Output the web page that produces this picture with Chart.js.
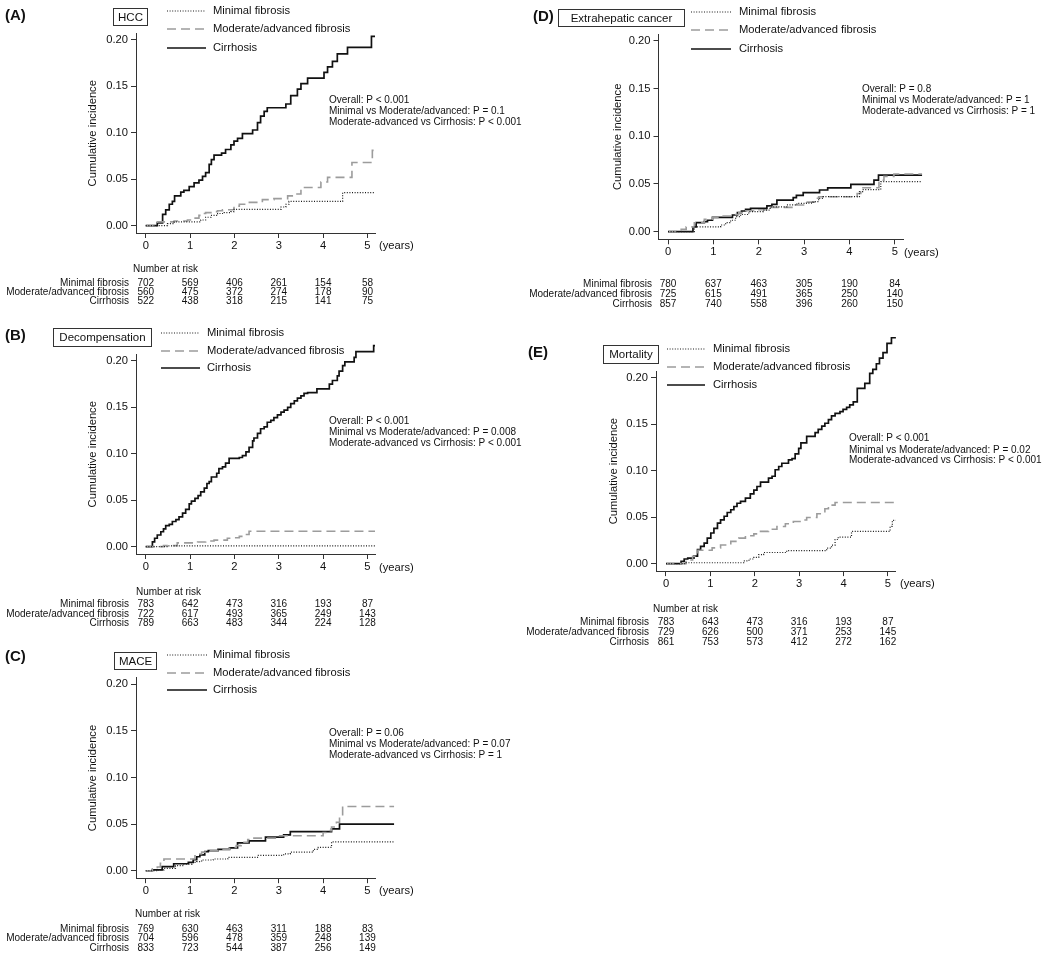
<!DOCTYPE html>
<html><head><meta charset="utf-8">
<script src="https://cdn.jsdelivr.net/npm/chart.js@4.4.0/dist/chart.umd.min.js"></script>
<style>
html,body{margin:0;padding:0;background:#fff;}
body{width:1050px;height:957px;position:relative;overflow:hidden;}
canvas{position:absolute;}
</style></head><body>
<canvas id="cA"></canvas><canvas id="cB"></canvas><canvas id="cC"></canvas><canvas id="cD"></canvas><canvas id="cE"></canvas>
<script>
const FONT = '"Liberation Sans", Arial, Helvetica, sans-serif';
const yearTicks = [0, 1, 2, 3, 4, 5];
const cifTicks = [0, 0.05, 0.10, 0.15, 0.20];
const groupNames = ['Minimal fibrosis', 'Moderate/advanced fibrosis', 'Cirrhosis'];
const yTitle = 'Cumulative incidence';
const narHeader = 'Number at risk';

// ---- (A) HCC ----
const hccMinT = [0, 0.49, 0.64, 1.24, 1.35, 1.47, 1.62, 1.77, 1.92, 1.99, 3.05, 3.16, 3.23, 4.44, 5.17];
const hccMinY = [0, 0.002, 0.004, 0.006, 0.009, 0.011, 0.013, 0.014, 0.015, 0.0175, 0.020, 0.023, 0.026, 0.0355, 0.0355];
const hccModT = [0, 0.26, 0.64, 0.94, 1.05, 1.20, 1.28, 1.35, 1.47, 1.62, 1.73, 1.99, 2.11, 2.29, 2.63, 2.89, 3.20, 3.35, 3.50, 3.95, 4.10, 4.65, 5.11, 5.15];
const hccModY = [0, 0.004, 0.005, 0.006, 0.008, 0.011, 0.013, 0.014, 0.015, 0.016, 0.017, 0.021, 0.023, 0.025, 0.028, 0.029, 0.032, 0.034, 0.041, 0.047, 0.052, 0.068, 0.081, 0.081];
const hccCirT = [0, 0.26, 0.38, 0.45, 0.53, 0.60, 0.65, 0.79, 0.86, 0.98, 1.09, 1.20, 1.28, 1.35, 1.43, 1.48, 1.54, 1.71, 1.80, 1.92, 1.99, 2.07, 2.18, 2.41, 2.52, 2.59, 2.67, 2.74, 3.16, 3.27, 3.42, 3.50, 3.65, 4.02, 4.10, 4.21, 4.32, 4.55, 5.09, 5.17];
const hccCirY = [0, 0.003, 0.012, 0.017, 0.023, 0.026, 0.032, 0.036, 0.038, 0.042, 0.046, 0.049, 0.053, 0.057, 0.066, 0.071, 0.076, 0.078, 0.082, 0.087, 0.091, 0.094, 0.099, 0.103, 0.111, 0.118, 0.123, 0.127, 0.131, 0.140, 0.147, 0.153, 0.159, 0.165, 0.171, 0.177, 0.185, 0.192, 0.204, 0.204];
const hccRiskMin = [702, 569, 406, 261, 154, 58];
const hccRiskMod = [560, 475, 372, 274, 178, 90];
const hccRiskCir = [522, 438, 318, 215, 141, 75];
const hccP = ['Overall: P < 0.001', 'Minimal vs Moderate/advanced: P = 0.1', 'Moderate-advanced vs Cirrhosis: P < 0.001'];

// ---- (B) Decompensation ----
const decMinT = [0, 0.5, 5.17];
const decMinY = [0, 0.0008, 0.0008];
const decModT = [0, 0.40, 0.71, 1.17, 1.35, 1.54, 1.84, 1.99, 2.11, 2.22, 2.33, 5.17];
const decModY = [0, 0.001, 0.004, 0.005, 0.006, 0.007, 0.009, 0.0095, 0.011, 0.013, 0.0165, 0.0165];
const decCirT = [0, 0.15, 0.20, 0.26, 0.34, 0.40, 0.45, 0.53, 0.60, 0.68, 0.75, 0.83, 0.90, 0.98, 1.03, 1.11, 1.18, 1.24, 1.32, 1.38, 1.43, 1.48, 1.60, 1.65, 1.73, 1.80, 1.88, 2.11, 2.18, 2.26, 2.33, 2.41, 2.44, 2.52, 2.59, 2.67, 2.74, 2.82, 2.89, 2.97, 3.05, 3.12, 3.20, 3.27, 3.35, 3.42, 3.50, 3.57, 3.65, 3.86, 4.14, 4.21, 4.32, 4.36, 4.44, 4.49, 4.70, 4.74, 5.14, 5.17];
const decCirY = [0, 0.005, 0.009, 0.0125, 0.016, 0.019, 0.0225, 0.024, 0.027, 0.029, 0.032, 0.036, 0.040, 0.046, 0.049, 0.052, 0.055, 0.059, 0.063, 0.068, 0.070, 0.075, 0.079, 0.084, 0.086, 0.090, 0.095, 0.096, 0.098, 0.102, 0.107, 0.114, 0.117, 0.122, 0.127, 0.129, 0.134, 0.136, 0.139, 0.142, 0.145, 0.147, 0.150, 0.154, 0.157, 0.160, 0.1625, 0.165, 0.166, 0.170, 0.175, 0.179, 0.184, 0.189, 0.195, 0.199, 0.204, 0.210, 0.2165, 0.2165];
const decRiskMin = [783, 642, 473, 316, 193, 87];
const decRiskMod = [722, 617, 493, 365, 249, 143];
const decRiskCir = [789, 663, 483, 344, 224, 128];
const decP = ['Overall: P < 0.001', 'Minimal vs Moderate/advanced: P = 0.008', 'Moderate-advanced vs Cirrhosis: P < 0.001'];

// ---- (C) MACE ----
const maceMinT = [0, 0.26, 0.41, 0.67, 0.85, 1.04, 1.15, 1.26, 1.52, 1.85, 2.52, 3.11, 3.26, 3.78, 3.89, 4.19, 5.6];
const maceMinY = [0, 0.001, 0.0025, 0.0054, 0.0072, 0.009, 0.0097, 0.0115, 0.0126, 0.0144, 0.0165, 0.018, 0.020, 0.023, 0.025, 0.031, 0.031];
const maceModT = [0, 0.15, 0.26, 0.33, 0.41, 1.11, 1.19, 1.26, 1.37, 1.67, 1.89, 2.04, 2.15, 2.30, 2.37, 3.0, 4.0, 4.11, 4.19, 4.30, 4.37, 4.44, 5.6];
const maceModY = [0, 0.002, 0.004, 0.008, 0.0126, 0.016, 0.018, 0.020, 0.0216, 0.023, 0.025, 0.027, 0.0306, 0.0335, 0.035, 0.0375, 0.041, 0.043, 0.047, 0.052, 0.059, 0.069, 0.069];
const maceCirT = [0, 0.15, 0.37, 0.63, 0.96, 1.07, 1.15, 1.22, 1.33, 1.41, 1.63, 1.89, 2.07, 2.33, 2.70, 3.11, 3.26, 4.19, 4.37, 5.6];
const maceCirY = [0, 0.001, 0.0045, 0.0075, 0.009, 0.012, 0.015, 0.017, 0.0205, 0.0216, 0.023, 0.0245, 0.030, 0.032, 0.036, 0.0385, 0.042, 0.045, 0.050, 0.050];
const maceRiskMin = [769, 630, 463, 311, 188, 83];
const maceRiskMod = [704, 596, 478, 359, 248, 139];
const maceRiskCir = [833, 723, 544, 387, 256, 149];
const maceP = ['Overall: P = 0.06', 'Minimal vs Moderate/advanced: P = 0.07', 'Moderate-advanced vs Cirrhosis: P = 1'];

// ---- (D) Extrahepatic cancer ----
const ehcMinT = [0, 0.58, 1.16, 1.27, 1.38, 1.49, 1.60, 1.78, 2.10, 2.25, 2.62, 2.84, 3.05, 3.20, 3.32, 3.42, 4.22, 4.29, 4.69, 5.6];
const ehcMinY = [0, 0.005, 0.007, 0.0094, 0.012, 0.0157, 0.018, 0.021, 0.0227, 0.026, 0.028, 0.0297, 0.030, 0.0315, 0.035, 0.0367, 0.042, 0.044, 0.0524, 0.0524];
const ehcModT = [0, 0.29, 0.40, 0.58, 0.80, 0.98, 1.16, 1.45, 1.56, 1.67, 1.89, 2.18, 2.76, 3.05, 3.23, 3.32, 4.17, 4.25, 4.65, 4.76, 4.98, 5.6];
const ehcModY = [0, 0.0024, 0.005, 0.0094, 0.013, 0.015, 0.0164, 0.018, 0.020, 0.022, 0.023, 0.0255, 0.028, 0.031, 0.035, 0.0367, 0.040, 0.046, 0.054, 0.058, 0.0605, 0.0605];
const ehcCirT = [0, 0.55, 0.62, 0.80, 0.87, 0.98, 1.42, 1.53, 1.62, 1.71, 1.82, 2.18, 2.29, 2.40, 2.76, 2.83, 2.98, 3.34, 3.52, 4.03, 4.54, 4.64, 5.6];
const ehcCirY = [0, 0.005, 0.0094, 0.0105, 0.012, 0.015, 0.0175, 0.020, 0.0217, 0.0234, 0.0245, 0.027, 0.0287, 0.033, 0.0357, 0.038, 0.041, 0.0437, 0.046, 0.0497, 0.054, 0.0594, 0.0594];
const ehcRiskMin = [780, 637, 463, 305, 190, 84];
const ehcRiskMod = [725, 615, 491, 365, 250, 140];
const ehcRiskCir = [857, 740, 558, 396, 260, 150];
const ehcP = ['Overall: P = 0.8', 'Minimal vs Moderate/advanced: P = 1', 'Moderate-advanced vs Cirrhosis: P = 1'];

// ---- (E) Mortality ----
const morMinT = [0, 0.45, 1.75, 1.87, 1.98, 2.09, 2.20, 2.72, 3.62, 3.73, 3.81, 3.88, 4.18, 5.05, 5.10, 5.18];
const morMinY = [0, 0.001, 0.003, 0.005, 0.0068, 0.0097, 0.012, 0.014, 0.0168, 0.020, 0.026, 0.0286, 0.0347, 0.040, 0.0465, 0.0465];
const morModT = [0, 0.45, 0.60, 0.72, 1.04, 1.23, 1.46, 1.64, 1.79, 1.98, 2.13, 2.31, 2.50, 2.69, 2.87, 3.02, 3.17, 3.40, 3.58, 3.66, 3.81, 5.18];
const morModY = [0, 0.004, 0.008, 0.0145, 0.017, 0.020, 0.024, 0.0275, 0.030, 0.032, 0.0347, 0.037, 0.040, 0.043, 0.0454, 0.047, 0.0497, 0.0537, 0.059, 0.063, 0.0658, 0.0658];
const morCirT = [0, 0.34, 0.41, 0.49, 0.63, 0.71, 0.78, 0.86, 0.93, 1.01, 1.08, 1.16, 1.23, 1.31, 1.38, 1.46, 1.53, 1.60, 1.68, 1.79, 1.90, 1.98, 2.05, 2.13, 2.31, 2.39, 2.46, 2.54, 2.61, 2.76, 2.84, 2.91, 2.99, 3.04, 3.17, 3.36, 3.43, 3.51, 3.58, 3.66, 3.73, 3.81, 3.92, 3.99, 4.07, 4.14, 4.22, 4.31, 4.48, 4.59, 4.66, 4.74, 4.81, 4.89, 4.98, 5.08, 5.18];
const morCirY = [0, 0.0025, 0.005, 0.006, 0.008, 0.015, 0.0186, 0.022, 0.0275, 0.033, 0.038, 0.0436, 0.047, 0.051, 0.055, 0.058, 0.0615, 0.065, 0.067, 0.0705, 0.075, 0.079, 0.083, 0.0877, 0.092, 0.094, 0.101, 0.1045, 0.108, 0.1116, 0.113, 0.118, 0.124, 0.130, 0.137, 0.141, 0.1445, 0.148, 0.151, 0.155, 0.159, 0.1617, 0.1635, 0.166, 0.168, 0.1707, 0.174, 0.1886, 0.194, 0.2047, 0.209, 0.215, 0.221, 0.227, 0.237, 0.243, 0.243];
const morRiskMin = [783, 643, 473, 316, 193, 87];
const morRiskMod = [729, 626, 500, 371, 253, 145];
const morRiskCir = [861, 753, 573, 412, 272, 162];
const morP = ['Overall: P < 0.001', 'Minimal vs Moderate/advanced: P = 0.02', 'Moderate-advanced vs Cirrhosis: P < 0.001'];

// ---- styles & layout (page coordinates) ----
const STYLES = [
  {borderColor: '#1a1a1a', borderWidth: 1.2, borderDash: [1, 1.6]},
  {borderColor: '#9c9c9c', borderWidth: 1.6, borderDash: [9, 5]},
  {borderColor: '#111111', borderWidth: 1.7, borderDash: []}
];
const TXT = '#111';
const XH = 22;

const panels = [
  {id: 'cA', cv: [0, 0, 525, 314], area: [136, 33.5, 375, 233], xr: [-0.22, 5.17], tag: '(A)', tagPos: [5, 16],
   box: {text: 'HCC', r: [113, 8, 34, 17]}, leg: {x0: 167, x1: 206, tx: 213, ys: [11, 29, 48]},
   yTitleX: 93, pv: {x: 329, ys: [100, 111, 122], lines: hccP}, years: [379, 246],
   nar: {header: [133, 269], right: 129, ys: [283.3, 292.5, 301.7], rows: [hccRiskMin, hccRiskMod, hccRiskCir]},
   ser: [[hccMinT, hccMinY], [hccModT, hccModY], [hccCirT, hccCirY]]},
  {id: 'cB', cv: [0, 318, 525, 316], area: [136, 354.5, 375, 554], xr: [-0.22, 5.17], tag: '(B)', tagPos: [5, 336],
   box: {text: 'Decompensation', r: [53, 328, 98, 18]}, leg: {x0: 161, x1: 200, tx: 207, ys: [333, 351, 368]},
   yTitleX: 93, pv: {x: 329, ys: [421, 432, 443], lines: decP}, years: [379, 568],
   nar: {header: [136, 592], right: 129, ys: [604.5, 614, 623.5], rows: [decRiskMin, decRiskMod, decRiskCir]},
   ser: [[decMinT, decMinY], [decModT, decModY], [decCirT, decCirY]]},
  {id: 'cC', cv: [0, 640, 525, 317], area: [136, 677.8, 375, 878.2], xr: [-0.22, 5.17], tag: '(C)', tagPos: [5, 657],
   box: {text: 'MACE', r: [114, 652, 42, 17]}, leg: {x0: 167, x1: 207, tx: 213, ys: [655, 673, 690]},
   yTitleX: 93, pv: {x: 329, ys: [733, 744, 755], lines: maceP}, years: [379, 891],
   nar: {header: [135, 914], right: 129, ys: [929, 938.5, 948], rows: [maceRiskMin, maceRiskMod, maceRiskCir]},
   ser: [[maceMinT, maceMinY], [maceModT, maceModY], [maceCirT, maceCirY]]},
  {id: 'cD', cv: [525, 0, 525, 318], area: [658.5, 34.3, 903, 239.3], xr: [-0.21, 5.18], tag: '(D)', tagPos: [533, 17],
   box: {text: 'Extrahepatic cancer', r: [558, 9, 126, 17]}, leg: {x0: 691, x1: 731, tx: 739, ys: [12, 30, 49]},
   yTitleX: 617.5, pv: {x: 862, ys: [89, 100, 111], lines: ehcP}, years: [904, 253],
   nar: {header: null, right: 652, ys: [284, 294, 304], rows: [ehcRiskMin, ehcRiskMod, ehcRiskCir]},
   ser: [[ehcMinT, ehcMinY], [ehcModT, ehcModY], [ehcCirT, ehcCirY]]},
  {id: 'cE', cv: [525, 325, 525, 330], area: [656, 371.2, 895, 571.1], xr: [-0.225, 5.16], tag: '(E)', tagPos: [528, 353],
   box: {text: 'Mortality', r: [603, 345, 55, 18]}, leg: {x0: 667, x1: 705, tx: 713, ys: [349, 367, 385]},
   yTitleX: 614, pv: {x: 849, ys: [438, 450, 460], lines: morP}, years: [900, 584],
   nar: {header: [653, 609], right: 649, ys: [622, 632, 642], rows: [morRiskMin, morRiskMod, morRiskCir]},
   ser: [[morMinT, morMinY], [morModT, morModY], [morCirT, morCirY]]}
];

function toPoints(t, y) { return t.map((v, i) => ({x: v, y: y[i]})); }

function makePanel(p) {
  const [cx, cy, cw, ch] = p.cv;
  const cvs = document.getElementById(p.id);
  cvs.style.left = cx + 'px'; cvs.style.top = cy + 'px';
  cvs.width = cw; cvs.height = ch;
  cvs.style.width = cw + 'px'; cvs.style.height = ch + 'px';
  const [aL, aT, aR, aB] = p.area;
  const yAxisW = aL - cx;
  const lh = 11.2 * 1.2;

  const extras = {
    id: 'extras',
    afterDraw(chart) {
      const ctx = chart.ctx;
      const X = v => v - cx, Y = v => v - cy;
      ctx.save();
      ctx.fillStyle = TXT;
      ctx.textBaseline = 'middle';
      // panel tag
      ctx.font = 'bold 15px ' + FONT;
      ctx.textAlign = 'left';
      ctx.fillText(p.tag, X(p.tagPos[0]), Y(p.tagPos[1]));
      // boxed title
      const r = p.box.r;
      ctx.strokeStyle = '#333'; ctx.lineWidth = 1; ctx.setLineDash([]);
      ctx.strokeRect(X(r[0]) + 0.5, Y(r[1]) + 0.5, r[2], r[3]);
      ctx.font = '11.5px ' + FONT;
      ctx.textAlign = 'center';
      ctx.fillText(p.box.text, X(r[0] + r[2] / 2) + 0.5, Y(r[1] + r[3] / 2) + 1);
      // legend
      chart.data.datasets.forEach((ds, i) => {
        const yy = Y(p.leg.ys[i]);
        ctx.save();
        ctx.strokeStyle = ds.borderColor; ctx.lineWidth = ds.borderWidth;
        ctx.setLineDash(ds.borderDash || []);
        ctx.beginPath(); ctx.moveTo(X(p.leg.x0), yy); ctx.lineTo(X(p.leg.x1), yy); ctx.stroke();
        ctx.restore();
        ctx.font = '11.2px ' + FONT; ctx.textAlign = 'left'; ctx.fillStyle = TXT;
        ctx.fillText(ds.label, X(p.leg.tx), yy);
      });
      // p-values
      ctx.font = '10px ' + FONT; ctx.textAlign = 'left';
      p.pv.lines.forEach((s, i) => ctx.fillText(s, X(p.pv.x), Y(p.pv.ys[i])));
      // (years)
      ctx.font = '11.2px ' + FONT;
      ctx.fillText('(years)', X(p.years[0]), Y(p.years[1]));
      // number at risk
      const xs = chart.scales.x;
      ctx.font = '10px ' + FONT;
      if (p.nar.header) { ctx.textAlign = 'left'; ctx.fillText(narHeader, X(p.nar.header[0]), Y(p.nar.header[1])); }
      p.nar.rows.forEach((row, i) => {
        const yy = Y(p.nar.ys[i]);
        ctx.textAlign = 'right';
        ctx.fillText(groupNames[i], X(p.nar.right), yy);
        ctx.textAlign = 'center';
        row.forEach((n, j) => ctx.fillText(String(n), xs.getPixelForValue(yearTicks[j]), yy));
      });
      ctx.restore();
    }
  };

  return new Chart(cvs, {
    type: 'line',
    data: {
      datasets: p.ser.map((s, i) => Object.assign({
        label: groupNames[i], data: toPoints(s[0], s[1]), stepped: true,
        pointRadius: 0, fill: false, clip: false, tension: 0
      }, STYLES[i]))
    },
    options: {
      responsive: false, animation: false, events: [],
      layout: {padding: {left: 0, top: aT - cy, right: cx + cw - aR, bottom: (cy + ch) - aB - XH}},
      plugins: {legend: {display: false}, tooltip: {enabled: false}, title: {display: false}},
      scales: {
        x: {
          type: 'linear', min: p.xr[0], max: p.xr[1],
          afterBuildTicks: s => { s.ticks = yearTicks.map(v => ({value: v})); },
          ticks: {callback: v => String(v), font: {family: FONT, size: 11.2}, color: TXT, padding: 1, maxRotation: 0, autoSkip: false},
          grid: {drawOnChartArea: false, drawTicks: true, tickLength: 5, tickColor: '#333', tickWidth: 1},
          border: {display: true, color: '#333', width: 1},
          afterFit: s => { s.height = XH; s.paddingLeft = 0; s.paddingRight = 0; }
        },
        y: {
          type: 'linear', min: -0.008, max: 0.207,
          afterBuildTicks: s => { s.ticks = cifTicks.map(v => ({value: v})); },
          ticks: {callback: v => Number(v).toFixed(2), font: {family: FONT, size: 11.2}, color: TXT, padding: 3, autoSkip: false},
          grid: {drawOnChartArea: false, drawTicks: true, tickLength: 5, tickColor: '#333', tickWidth: 1},
          border: {display: true, color: '#333', width: 1},
          title: {display: true, text: yTitle, color: TXT, font: {family: FONT, size: 11.2},
                  padding: {top: (p.yTitleX - cx) - lh / 2, bottom: 0}},
          afterFit: s => { s.width = yAxisW; s.paddingTop = 0; s.paddingBottom = 0; }
        }
      }
    },
    plugins: [extras]
  });
}

panels.forEach(makePanel);
</script>
</body></html>
